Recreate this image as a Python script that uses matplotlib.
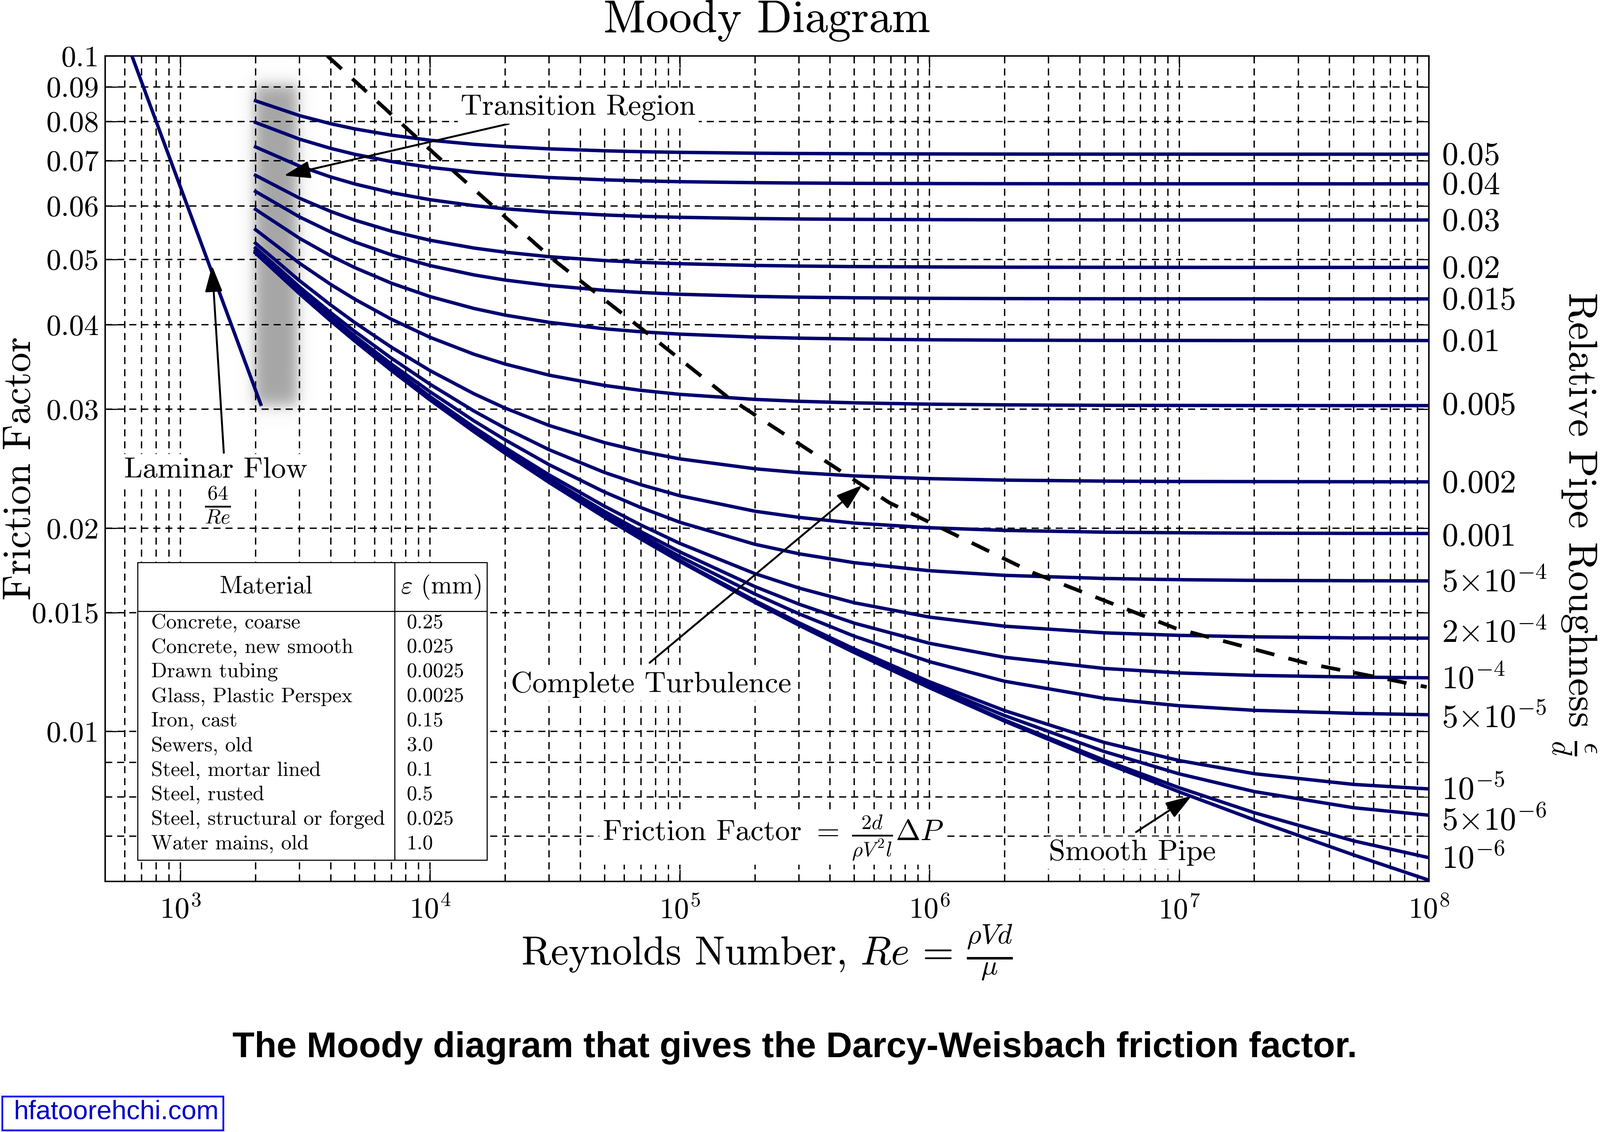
import numpy as np
import matplotlib
matplotlib.use('Agg')
import matplotlib.pyplot as plt
from matplotlib.ticker import FixedLocator, FixedFormatter, NullFormatter, LogLocator
from matplotlib.patches import Rectangle, ArrowStyle
from matplotlib.lines import Line2D
from matplotlib.transforms import Affine2D

plt.rcParams['font.family'] = 'cmr10'
plt.rcParams['mathtext.fontset'] = 'cm'
plt.rcParams['axes.formatter.use_mathtext'] = True
plt.rcParams['axes.unicode_minus'] = False

# Reynolds numbers at which the friction factor was read
reynolds = [2e3, 3e3, 4e3, 5e3, 7e3, 1e4, 1.5e4, 2e4, 3e4, 5e4, 7e4, 1e5,
            2e5, 3e5, 5e5, 1e6, 2e6, 5e6, 1e7, 2e7, 5e7, 1e8]

# relative roughness of each curve (None = smooth pipe)
roughness_labels = ['0.05', '0.04', '0.03', '0.02', '0.015', '0.01', '0.005',
                    '0.002', '0.001', r'5{\times}10^{-4}', r'2{\times}10^{-4}',
                    r'10^{-4}', r'5{\times}10^{-5}', r'10^{-5}',
                    r'5{\times}10^{-6}', r'10^{-6}', None]

f_005 = [0.08584, 0.08161, 0.07938, 0.07799, 0.07634, 0.07504, 0.07399, 0.07344, 0.07286, 0.07238, 0.07216,
         0.072, 0.07179, 0.07172, 0.07166, 0.07161, 0.07158, 0.07156, 0.07156, 0.07155, 0.07155, 0.07155]
f_004 = [0.07972, 0.07532, 0.07298, 0.07152, 0.06978, 0.0684, 0.06728, 0.06669, 0.06608, 0.06556, 0.06533,
         0.06515, 0.06493, 0.06485, 0.06478, 0.06473, 0.0647, 0.06469, 0.06468, 0.06468, 0.06467, 0.06467]
f_003 = [0.07334, 0.0687, 0.06621, 0.06464, 0.06276, 0.06127, 0.06004, 0.0594, 0.05873, 0.05816, 0.0579,
         0.0577, 0.05746, 0.05737, 0.0573, 0.05724, 0.05721, 0.05719, 0.05718, 0.05718, 0.05718, 0.05718]
f_002 = [0.06658, 0.06159, 0.05887, 0.05714, 0.05504, 0.05336, 0.05196, 0.05123, 0.05045, 0.04979, 0.04949,
         0.04926, 0.04897, 0.04887, 0.04878, 0.04872, 0.04868, 0.04866, 0.04865, 0.04864, 0.04864, 0.04864]
f_0015 = [0.06302, 0.05778, 0.05489, 0.05304, 0.05078, 0.04895, 0.04741, 0.04659, 0.04573, 0.04499, 0.04466,
          0.04439, 0.04407, 0.04395, 0.04386, 0.04378, 0.04374, 0.04371, 0.0437, 0.0437, 0.04369, 0.04369]
f_001 = [0.05928, 0.05372, 0.05061, 0.0486, 0.0461, 0.04404, 0.04229, 0.04134, 0.04034, 0.03946, 0.03906,
         0.03875, 0.03836, 0.03822, 0.03811, 0.03801, 0.03796, 0.03793, 0.03792, 0.03791, 0.03791, 0.03791]
f_0005 = [0.05533, 0.04934, 0.04591, 0.04364, 0.04077, 0.03833, 0.03618, 0.03499, 0.03369, 0.03253, 0.03199,
          0.03156, 0.03102, 0.03082, 0.03066, 0.03052, 0.03045, 0.0304, 0.03039, 0.03038, 0.03037, 0.03037]
f_0002 = [0.05283, 0.0465, 0.0428, 0.0403, 0.03706, 0.03422, 0.03162, 0.03011, 0.02838, 0.02677, 0.02598,
          0.02533, 0.02449, 0.02417, 0.0239, 0.02368, 0.02356, 0.02348, 0.02345, 0.02344, 0.02343, 0.02342]
f_0001 = [0.05197, 0.04551, 0.0417, 0.0391, 0.0357, 0.03267, 0.02981, 0.02812, 0.02613, 0.02418, 0.02319,
          0.02234, 0.02119, 0.02075, 0.02035, 0.02003, 0.01985, 0.01973, 0.01969, 0.01966, 0.01965, 0.01964]
f_5e4 = [0.05153, 0.045, 0.04113, 0.03848, 0.03499, 0.03184, 0.02883, 0.02702, 0.02483, 0.02262, 0.02145,
         0.02041, 0.01893, 0.01833, 0.01778, 0.0173, 0.01703, 0.01685, 0.01678, 0.01674, 0.01672, 0.01671]
f_2e4 = [0.05127, 0.0447, 0.04078, 0.0381, 0.03455, 0.03132, 0.02821, 0.02631, 0.02398, 0.02155, 0.02021,
         0.01899, 0.01713, 0.01631, 0.01551, 0.01477, 0.01432, 0.014, 0.01388, 0.01381, 0.01376, 0.01375]
f_1e4 = [0.05118, 0.04459, 0.04067, 0.03797, 0.0344, 0.03115, 0.028, 0.02606, 0.02368, 0.02117, 0.01976,
         0.01845, 0.01639, 0.01544, 0.01447, 0.01351, 0.01288, 0.0124, 0.01221, 0.01211, 0.01204, 0.01201]
f_5e5 = [0.05114, 0.04454, 0.04061, 0.03791, 0.03433, 0.03106, 0.02789, 0.02594, 0.02353, 0.02097, 0.01952,
         0.01816, 0.01598, 0.01494, 0.01384, 0.01269, 0.01187, 0.0112, 0.01092, 0.01075, 0.01064, 0.01059]
f_1e5 = [0.0511, 0.0445, 0.04056, 0.03786, 0.03427, 0.03099, 0.02781, 0.02584, 0.0234, 0.0208, 0.01932,
         0.01792, 0.01562, 0.01449, 0.01325, 0.01185, 0.01074, 0.009638, 0.009059, 0.008662, 0.008351, 0.008224]
f_5e6 = [0.0511, 0.0445, 0.04056, 0.03785, 0.03426, 0.03098, 0.0278, 0.02583, 0.02339, 0.02078, 0.0193,
         0.01789, 0.01558, 0.01443, 0.01317, 0.01173, 0.01056, 0.009344, 0.008657, 0.00815, 0.007713, 0.007519]
f_1e6 = [0.05109, 0.04449, 0.04055, 0.03785, 0.03425, 0.03097, 0.02779, 0.02582, 0.02338, 0.02076, 0.01928,
         0.01787, 0.01554, 0.01439, 0.01311, 0.01163, 0.0104, 0.009074, 0.008258, 0.007583, 0.006889, 0.006506]
f_smooth = [0.05109, 0.04449, 0.04055, 0.03785, 0.03425, 0.03097, 0.02779, 0.02581, 0.02337, 0.02076, 0.01927,
            0.01786, 0.01553, 0.01437, 0.01309, 0.01161, 0.01036, 0.009001, 0.008142, 0.007401, 0.006567, 0.006026]

curves = [f_005, f_004, f_003, f_002, f_0015, f_001, f_0005, f_0002, f_0001,
          f_5e4, f_2e4, f_1e4, f_5e5, f_1e5, f_5e6, f_1e6, f_smooth]

laminar_re = [640, 2100]
laminar_f = [0.1, 0.0305]

turb_re = [3880, 1.233e4, 3.116e4, 7.06e4, 1.548e5, 4.8e5, 6.9e5, 2.6e6,
           9.67e6, 3.24e7, 9.8e7]
turb_f = [0.1, 0.0677, 0.04995, 0.03943, 0.03131, 0.0238, 0.02182, 0.01718,
          0.01422, 0.01262, 0.01164]

materials = ['Concrete, coarse', 'Concrete, new smooth', 'Drawn tubing',
             'Glass, Plastic Perspex', 'Iron, cast', 'Sewers, old',
             'Steel, mortar lined', 'Steel, rusted',
             'Steel, structural or forged', 'Water mains, old']
eps_mm = ['0.25', '0.025', '0.0025', '0.0025', '0.15', '3.0', '0.1', '0.5',
          '0.025', '1.0']

y_major = [0.01, 0.015, 0.02, 0.03, 0.04, 0.05, 0.06, 0.07, 0.08, 0.09, 0.1]
y_labels = ['0.01', '0.015', '0.02', '0.03', '0.04', '0.05', '0.06', '0.07',
            '0.08', '0.09', '0.1']
y_minor = [0.007, 0.008, 0.009]

NAVY = '#000070'
W, H = 4488, 3176
fig = plt.figure(figsize=(W / 300, H / 300), dpi=300)
px = Affine2D().scale(1 / W, -1 / H).translate(0, 1) + fig.transFigure
ax = fig.add_axes([295 / W, 1 - 2473 / H, (4008 - 295) / W, (2473 - 157) / H])
ax.set_xscale('log')
ax.set_yscale('log')
ax.set_xlim(500, 1e8)
ax.set_ylim(0.006, 0.1)

# blurred grey band over the transition region
nx, ny = 300, 300
gx = np.linspace(1600, 3800, nx)
gy = np.linspace(0.025, 0.1, ny)
lx = np.log10(gx)
ly = np.log10(gy)
axp = 0.5 * (1 + np.tanh((lx - 3.297) / 0.03)) * 0.5 * (1 + np.tanh((3.468 - lx) / 0.03))
ayp = 0.5 * (1 + np.tanh((ly + 1.5186) / 0.013)) * 0.5 * (1 + np.tanh((-1.0434 - ly) / 0.013))
img = np.zeros((ny, nx, 4))
img[..., :3] = 0.65
img[..., 3] = np.outer(ayp, axp)
ax.imshow(img, extent=[gx[0], gx[-1], gy[0], gy[-1]], origin='lower',
          aspect='auto', interpolation='bilinear', zorder=0.2)

ax.set_axisbelow(True)
ax.grid(True, which='both', color='k', ls=(0, (5.3, 3.7)), lw=0.9)

# small vertical nudges (points) so crowded end labels sit as in the original
label_nudge = [0, 0, 0, 0, 0, 0, 1.2, 0, -1.0, 0, 4.3, 0, -1.4, 0, -2.9, 0, 0]
for lab, fv, dy in zip(roughness_labels, curves, label_nudge):
    ax.plot(reynolds, fv, color=NAVY, lw=2.3, zorder=3)
    if lab:
        ax.annotate('$%s$' % lab, xy=(reynolds[-1], fv[-1]), xytext=(8.6, -7.1 + dy),
                    textcoords='offset points', ha='left', va='baseline',
                    fontsize=22, annotation_clip=False)
ax.plot(laminar_re, laminar_f, color=NAVY, lw=2.3, zorder=3)
ax.plot(turb_re, turb_f, color='k', lw=2.5, ls=(0, (5.2, 3.9)), zorder=4)

ax.yaxis.set_major_locator(FixedLocator(y_major))
ax.yaxis.set_major_formatter(FixedFormatter(y_labels))
ax.yaxis.set_minor_locator(FixedLocator(y_minor))
ax.yaxis.set_minor_formatter(NullFormatter())
ax.xaxis.set_major_locator(LogLocator(base=10))
ax.xaxis.set_minor_locator(LogLocator(base=10, subs=np.arange(2, 10)))
ax.xaxis.set_minor_formatter(NullFormatter())
ax.tick_params(which='both', direction='in', top=True, right=True, labelsize=20)
ax.tick_params(which='major', length=8, width=0.8)
ax.tick_params(which='minor', length=4, width=0.6)
ax.tick_params(axis='x', pad=10)
ax.tick_params(axis='y', pad=4)
for s in ax.spines.values():
    s.set_linewidth(1.0)

ax.set_title('Moody Diagram', fontsize=31, pad=16)
fig.text(2151, 2707, r'Reynolds Number, $Re\,=\,\frac{\rho V d}{\mu}$', transform=px,
         ha='center', va='baseline', fontsize=27)
fig.text(85, 1315, 'Friction Factor', transform=px, rotation=90,
         rotation_mode='anchor', ha='center', va='baseline', fontsize=26.5)
fig.text(4415, 1470, r'Relative Pipe Roughness $\frac{\epsilon}{d}$', transform=px,
         rotation=-90, ha='center', va='center', fontsize=27)

wb = dict(facecolor='white', edgecolor='none', pad=2)
arrow = dict(arrowstyle=ArrowStyle('-|>', head_length=1.5, head_width=0.5),
             mutation_scale=10, color='k', lw=1.3, shrinkA=0, shrinkB=0)
ax.annotate('Transition Region', xy=(2601, 0.06652), xytext=(13270, 0.08185),
            ha='left', va='baseline', fontsize=20, bbox=wb, arrowprops=arrow, zorder=5)
ax.annotate('', xy=(1340, 0.04894), xytext=(1493, 0.02586), arrowprops=arrow, zorder=5)
fig.text(605, 1340, 'Laminar Flow', transform=px, ha='center', va='baseline',
         fontsize=20, bbox=wb, zorder=0.5)
fig.text(611, 1417, r'$\frac{64}{Re}$', transform=px, ha='center', va='center', fontsize=20)
ax.annotate('', xy=(5.376e5, 0.02315), xytext=(7.57e4, 0.01264), arrowprops=arrow, zorder=5)
ax.text(21080, 0.01144, 'Complete Turbulence', ha='left', va='baseline',
        fontsize=20, bbox=wb, zorder=5)
ax.text(4.9e4, 0.0069, r'Friction Factor $=\;\frac{2d}{\rho V^2 l}\Delta P$',
        ha='left', va='baseline', fontsize=20, bbox=wb, zorder=5)
ax.annotate('', xy=(1.122e7, 0.00803), xytext=(6.72e6, 0.0071), arrowprops=arrow, zorder=5)
ax.text(3.006e6, 0.00645, 'Smooth Pipe', ha='left', va='baseline',
        fontsize=20, bbox=wb, zorder=5)

# material table
tl, tr, tt, tb, tc, th = 386, 1366, 1578, 2413, 1107, 1715
fig.add_artist(Rectangle((tl, tt), tr - tl, tb - tt, transform=px, facecolor='white',
                         edgecolor='k', lw=0.7, zorder=2))
fig.add_artist(Line2D([tc, tc], [tt, tb], transform=px, color='k', lw=0.7, zorder=3))
fig.add_artist(Line2D([tl, tr], [th, th], transform=px, color='k', lw=0.7, zorder=3))
fig.text((tl + tc) / 2, 1647, 'Material', transform=px, ha='center', va='center',
         fontsize=17, zorder=3)
fig.text((tc + tr) / 2, 1647, r'$\varepsilon$ (mm)', transform=px, ha='center',
         va='center', fontsize=17, zorder=3)
for i, (m, e) in enumerate(zip(materials, eps_mm)):
    yy = 1748 + i * 68.9
    fig.text(424, yy, m, transform=px, ha='left', va='center', fontsize=14, zorder=3)
    fig.text(1141, yy, e, transform=px, ha='left', va='center', fontsize=14, zorder=3)

fig.text(2229, 2940, 'The Moody diagram that gives the Darcy-Weisbach friction factor.',
         transform=px, ha='center', va='center', fontsize=24.3, fontweight='bold',
         family='Liberation Sans')
fig.add_artist(Rectangle((6, 3076), 620, 95, transform=px, facecolor='white',
                         edgecolor='#0000ff', lw=1.2, zorder=2))
fig.text(326, 3140, 'hfatoorehchi.com', transform=px, ha='center', va='baseline',
         fontsize=18, color='#0000cc', family='Liberation Sans', zorder=3)

fig.savefig('out.png', dpi=300)
